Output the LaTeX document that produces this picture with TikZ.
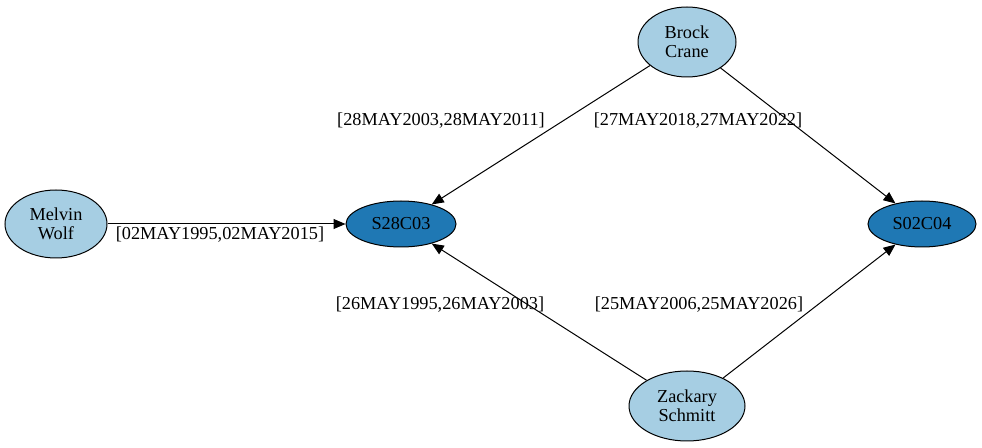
\documentclass[tikz,border=0pt]{standalone}
\usepackage{fontspec}
\setmainfont{Liberation Serif}
\usetikzlibrary{shapes.geometric,arrows.meta}
\definecolor{lightblue}{HTML}{A6CEE3}
\definecolor{darkblue}{HTML}{1F78B4}
\tikzset{
    person/.style={ellipse, draw=black, line width=0.75pt, fill=lightblue, inner sep=0pt, align=center,
        font=\fontsize{13.7}{14.5}\selectfont},
    site/.style={ellipse, draw=black, line width=0.75pt, fill=darkblue, inner sep=0pt,
        minimum height=34.5pt, font=\fontsize{13.7}{14.5}\selectfont},
    link/.style={draw=black, line width=0.75pt, -{Triangle[length=9pt, width=7.5pt]}},
    span/.style={font=\fontsize{13.7}{14.5}\selectfont, inner sep=0pt}
}
\begin{document}
\begin{tikzpicture}[x=0.75pt, y=-0.75pt]
    \useasboundingbox (0,0) rectangle (982,448);
    % people
    \node[person, minimum width=76.5pt, minimum height=51pt] (melvin) at (56,224) {Melvin\\Wolf};
    \node[person, minimum width=73.5pt, minimum height=52.5pt] (brock) at (687,42) {Brock\\Crane};
    \node[person, minimum width=87pt, minimum height=52.5pt] (zackary) at (687,406) {Zackary\\Schmitt};
    % sites
    \node[site, minimum width=82.5pt] (s28c03) at (401,224) {S28C03};
    \node[site, minimum width=81pt] (s02c04) at (922,224) {S02C04};
    % links
    \draw[link] (melvin) -- (s28c03);
    \draw[link] (brock) -- (s28c03);
    \draw[link] (brock) -- (s02c04);
    \draw[link] (zackary) -- (s28c03);
    \draw[link] (zackary) -- (s02c04);
    % periods
    \node[span] (p1) at (220,235) {[02MAY1995,02MAY2015]};
    \node[span] (p2) at (441,121) {[28MAY2003,28MAY2011]};
    \node[span] (p3) at (698,121) {[27MAY2018,27MAY2022]};
    \node[span] (p4) at (440,305) {[26MAY1995,26MAY2003]};
    \node[span] (p5) at (699,305) {[25MAY2006,25MAY2026]};
\end{tikzpicture}
\end{document}
